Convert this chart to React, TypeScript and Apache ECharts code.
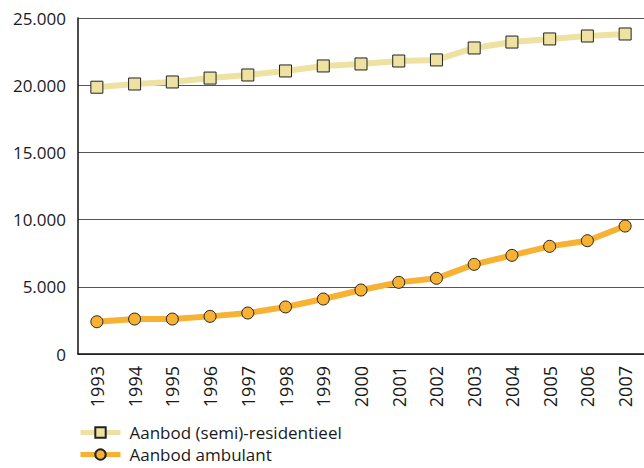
import React, { useEffect, useRef } from "react";
import * as echarts from "echarts";

const years = ["1993","1994","1995","1996","1997","1998","1999","2000","2001","2002","2003","2004","2005","2006","2007"];
const semiResidentieel = [19850, 20090, 20240, 20530, 20760, 21060, 21430, 21580, 21800, 21880, 22770, 23210, 23440, 23660, 23810];
const ambulant = [2400, 2600, 2600, 2800, 3050, 3500, 4090, 4760, 5330, 5630, 6670, 7340, 8010, 8430, 9520];
const seriesNames = ["Aanbod (semi)-residentieel", "Aanbod ambulant"];

const FONT = "'Open Sans', 'Noto Sans', sans-serif";

export default function App() {
  const ref = useRef<HTMLDivElement>(null);
  useEffect(() => {
    const chart = echarts.init(ref.current!, null, { renderer: "svg" });
    const legendBase = {
      orient: "horizontal",
      left: 78,
      itemWidth: 40,
      itemHeight: 13,
      padding: 0,
      textStyle: { fontSize: 17, color: "#1a1a1a", fontFamily: FONT, padding: [0, 0, 0, 4] },
      lineStyle: { width: 5 },
    };
    chart.setOption({
      animation: false,
      textStyle: { fontFamily: FONT },
      grid: { left: 78, right: 0, top: 18, bottom: 114, containLabel: false },
      legend: [
        { ...legendBase, top: 424, data: [seriesNames[0]] },
        { ...legendBase, top: 446, data: [seriesNames[1]] },
      ],
      xAxis: {
        type: "category",
        data: years,
        axisLine: { lineStyle: { color: "#111", width: 1.5 } },
        axisTick: { inside: true, length: 8, lineStyle: { color: "#333" } },
        axisLabel: { rotate: 90, margin: 12, fontSize: 18, color: "#1a1a1a", fontFamily: FONT },
      },
      yAxis: {
        type: "value",
        min: 0,
        max: 25000,
        interval: 5000,
        axisLine: { show: true, lineStyle: { color: "#111", width: 1.5 } },
        axisTick: { show: false },
        splitLine: { lineStyle: { color: "#555", width: 1 } },
        axisLabel: {
          fontSize: 17,
          color: "#1a1a1a",
          margin: 12,
          fontFamily: FONT,
          padding: [7, 0, 0, 0],
          formatter: (v: number) => v.toString().replace(/\B(?=(\d{3})+(?!\d))/g, "."),
        },
      },
      series: [
        {
          name: seriesNames[0],
          type: "line",
          data: semiResidentieel,
          symbol: "rect",
          symbolSize: 12,
          lineStyle: { color: "#eee2a2", width: 6 },
          itemStyle: { color: "#eee2a2", borderColor: "#222", borderWidth: 1 },
        },
        {
          name: seriesNames[1],
          type: "line",
          data: ambulant,
          symbol: "circle",
          symbolSize: 12,
          lineStyle: { color: "#f7b133", width: 6 },
          itemStyle: { color: "#f7b133", borderColor: "#222", borderWidth: 1 },
        },
      ],
    });
    return () => chart.dispose();
  }, []);
  return <div ref={ref} style={{ width: 644, height: 468, position: "absolute", left: 0, top: 0 }} />;
}
